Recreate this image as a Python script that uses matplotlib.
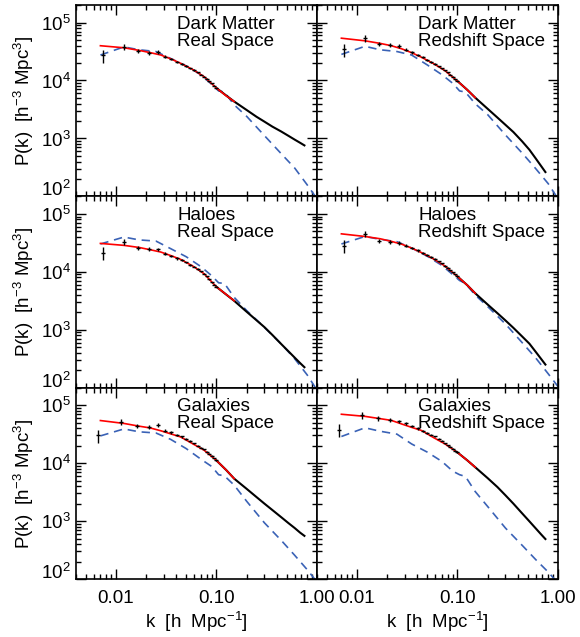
import matplotlib
matplotlib.use("Agg")
import matplotlib.pyplot as plt
from matplotlib import ticker

plt.rcParams["font.family"] = ["Liberation Sans", "DejaVu Sans"]
plt.rcParams["mathtext.fontset"] = "custom"
plt.rcParams["mathtext.rm"] = "Liberation Sans"
plt.rcParams["mathtext.it"] = "Liberation Sans:italic"
plt.rcParams["mathtext.bf"] = "Liberation Sans:bold"

RED = "#ff0000"
BLUE = "#3a62b6"
FS = 13.5

# binned measurements (k in h/Mpc)
k_bins = [0.0074, 0.0120, 0.0166, 0.0212, 0.0260, 0.0308, 0.0356, 0.0405,
          0.0454, 0.0502, 0.0551, 0.0600, 0.0650, 0.0700, 0.0750, 0.0800,
          0.0850, 0.0900, 0.0950, 0.1000]
k_bins_gal = [0.0066, 0.0113, 0.0162, 0.0211, 0.0262, 0.0308, 0.0356, 0.0405,
              0.0454, 0.0502, 0.0551, 0.0600, 0.0650, 0.0700, 0.0750, 0.0800,
              0.0850, 0.0900, 0.0950, 0.1000]
err_frac = [0.25, 0.13, 0.09, 0.08, 0.07, 0.06, 0.05, 0.045, 0.04, 0.035,
            0.03, 0.03, 0.025, 0.025, 0.02, 0.02, 0.02, 0.02, 0.015, 0.015]
# model curve (red), high-k measurements (black), linear theory (blue dashed)
k_model = [0.007, 0.012, 0.017, 0.022, 0.028, 0.035, 0.044, 0.058, 0.075,
           0.10, 0.125, 0.15]
k_tail = [0.10, 0.125, 0.15, 0.20, 0.25, 0.30, 0.36, 0.44, 0.52, 0.60,
          0.68, 0.75]
k_lin = [0.007, 0.012, 0.017, 0.025, 0.035, 0.05, 0.07, 0.09, 0.105, 0.12,
         0.15, 0.2, 0.3, 0.45, 0.6, 0.8, 1.0]

dm_real_data = [27200, 38000, 32400, 30200, 30900, 25700, 23400, 20900, 19500,
                17800, 16200, 15100, 13800, 12600, 11600, 10700, 9770, 8910,
                8130, 7410]
dm_real_model = [39800, 36700, 33100, 30200, 27500, 23700, 19800, 15500, 11700,
                 7410, 5430, 4340]
dm_real_tail = [7410, 5500, 4340, 3090, 2370, 1950, 1600, 1320, 1110, 955,
                841, 759]
dm_real_lin = [27500, 38000, 33900, 31600, 24000, 17800, 12600, 8510, 6610,
               6310, 3800, 2400, 1120, 525, 309, 158, 91]

dm_red_data = [34300, 53100, 42700, 41700, 39800, 33900, 30500, 27500, 25100,
               22900, 20900, 19300, 17600, 16200, 15000, 13800, 12600, 11500,
               10500, 9770]
dm_red_model = [53700, 48400, 43700, 39800, 35100, 30200, 25100, 19500, 14800,
                9770, 6920, 5070]
dm_red_tail = [9770, 6920, 5070, 3240, 2290, 1720, 1290, 891, 638, 453, 334,
               263]
dm_red_lin = [28200, 38900, 33900, 31600, 27500, 18600, 12600, 8910, 6610,
              6310, 3980, 2570, 1150, 537, 302, 166, 91]

halo_real_data = [21400, 33100, 25700, 24500, 24500, 20400, 18600, 17000, 15800,
                  14500, 13200, 12300, 11200, 10200, 9330, 8320, 7410, 6610,
                  6030, 5500]
halo_real_model = [30900, 28600, 26300, 24000, 21900, 19100, 16400, 12600, 9310,
                   5500, 4070, 3160]
halo_real_tail = [5500, 4050, 3160, 2040, 1460, 1110, 813, 569, 425, 331, 266,
                  226]
halo_real_lin = [30200, 39800, 35500, 33900, 25100, 18200, 12300, 8510, 6460,
                 6310, 3630, 2140, 1100, 550, 316, 166, 91]

halo_red_data = [28200, 45200, 33900, 33100, 31600, 28200, 25700, 23400, 21400,
                 19500, 18000, 16600, 15100, 14000, 12600, 11700, 10700, 9770,
                 9020, 8320]
halo_red_model = [45200, 40700, 37200, 33500, 29900, 25700, 21400, 16600, 12600,
                  8320, 5890, 4270]
halo_red_tail = [8320, 5890, 4270, 2720, 1930, 1450, 1080, 767, 575, 417, 314,
                 251]
halo_red_lin = [30200, 40700, 36300, 33100, 25700, 18600, 12900, 8910, 7080,
                6310, 3980, 2510, 1260, 575, 327, 174, 105]

gal_real_data = [30200, 51300, 43700, 42700, 45700, 36300, 33900, 30900, 28800,
                 25700, 24000, 21900, 20000, 18600, 17200, 15800, 14500, 13500,
                 12300, 11200]
gal_real_model = [54300, 48400, 43400, 40400, 36100, 32000, 28300, 21600, 16800,
                  11100, 7590, 5400]
gal_real_tail = [11100, 7590, 5400, 3590, 2600, 2000, 1550, 1170, 923, 759,
                 631, 556]
gal_real_lin = [29500, 38900, 34700, 33100, 25700, 17800, 11700, 8710, 6310,
                6030, 4170, 2190, 933, 447, 257, 145, 89]

gal_red_data = [37200, 67600, 59600, 55600, 52500, 49000, 43700, 39800, 36300,
                33100, 30900, 28800, 26300, 24500, 22100, 20400, 19100, 17600,
                16400, 15300]
gal_red_model = [69700, 64100, 58500, 54600, 47200, 41400, 36500, 27500, 21500,
                 15300, 11200, 8510]
gal_red_tail = [15300, 11200, 8510, 5500, 3860, 2790, 2000, 1360, 989, 750,
                589, 490]
gal_red_lin = [28800, 40700, 35500, 31600, 21400, 15500, 10700, 7240, 6310,
               5890, 3240, 1780, 759, 367, 217, 132, 85]

panels = [
    ("Dark Matter", "Real Space", k_bins, dm_real_data, dm_real_model,
     dm_real_tail, dm_real_lin),
    ("Dark Matter", "Redshift Space", k_bins, dm_red_data, dm_red_model,
     dm_red_tail, dm_red_lin),
    ("Haloes", "Real Space", k_bins, halo_real_data, halo_real_model,
     halo_real_tail, halo_real_lin),
    ("Haloes", "Redshift Space", k_bins, halo_red_data, halo_red_model,
     halo_red_tail, halo_red_lin),
    ("Galaxies", "Real Space", k_bins_gal, gal_real_data, gal_real_model,
     gal_real_tail, gal_real_lin),
    ("Galaxies", "Redshift Space", k_bins_gal, gal_red_data, gal_red_model,
     gal_red_tail, gal_red_lin),
]

fig, axes = plt.subplots(3, 2, figsize=(5.8, 6.37), dpi=100,
                         sharex=True, sharey=True)
fig.subplots_adjust(left=0.131, right=0.962, bottom=0.091, top=0.992,
                    wspace=0, hspace=0)

for ax, (name, space, kd, pd, pm, pt, pl) in zip(axes.flat, panels):
    ax.set_xscale("log")
    ax.set_yscale("log")
    ax.plot(k_lin, pl, color=BLUE, lw=1.2, dashes=(5, 3.5), zorder=2)
    ax.plot(k_tail, pt, color="black", lw=1.5, zorder=3)
    ax.plot(k_model, pm, color=RED, lw=1.2, zorder=4)
    yerr = [p * e for p, e in zip(pd, err_frac)]
    ax.errorbar(kd, pd, yerr=yerr, fmt="_", color="black", ms=3.5, mew=1,
                elinewidth=1, capsize=0, zorder=5)
    ax.text(0.42, 0.876, name, transform=ax.transAxes, fontsize=FS,
            va="baseline", ha="left")
    ax.text(0.42, 0.787, space, transform=ax.transAxes, fontsize=FS,
            va="baseline", ha="left")
    for sp in ax.spines.values():
        sp.set_linewidth(1.2)
    ax.tick_params(which="both", direction="in", top=True, right=True,
                   labelsize=FS, width=1)
    ax.tick_params(which="major", length=7)
    ax.tick_params(which="minor", length=3.5)
    ax.tick_params(axis="x", pad=8)

ax0 = axes[0, 0]
ax0.set_xlim(0.004, 1.0)
ax0.set_ylim(100, 2e5)
ax0.xaxis.set_major_locator(ticker.FixedLocator([0.01, 0.1, 1.0]))
ax0.xaxis.set_major_formatter(ticker.FixedFormatter(["0.01", "0.10", "1.00"]))
ax0.xaxis.set_minor_locator(ticker.LogLocator(subs=range(2, 10), numticks=20))
ax0.xaxis.set_minor_formatter(ticker.NullFormatter())
ax0.yaxis.set_major_locator(ticker.LogLocator(numticks=10))
ax0.yaxis.set_minor_locator(ticker.LogLocator(subs=range(2, 10), numticks=20))
ax0.yaxis.set_minor_formatter(ticker.NullFormatter())

for ax in axes[:, 0]:
    ax.set_ylabel(r"P(k)  [h$^{-3}$ Mpc$^{3}$]", fontsize=FS, labelpad=4)
for ax in axes[-1, :]:
    ax.set_xlabel(r"k  [h  Mpc$^{-1}$]", fontsize=FS, labelpad=2)

fig.canvas.draw()
for ax in axes[:, 0]:
    for tick in ax.yaxis.get_major_ticks():
        if abs(tick.get_loc() - 100) < 1:
            tick.label1.set_va("baseline")

fig.savefig("out.png", dpi=100)
